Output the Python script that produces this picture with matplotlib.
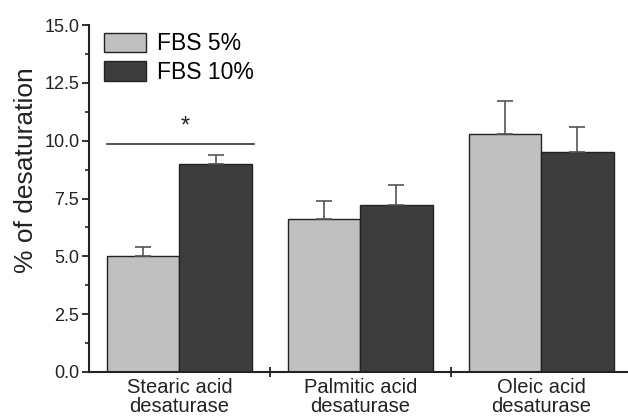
import matplotlib.pyplot as plt
import numpy as np
from matplotlib.ticker import MultipleLocator, FixedLocator, NullFormatter

plt.rcParams["font.family"] = ["Liberation Sans", "DejaVu Sans"]

groups = ["Stearic acid\ndesaturase", "Palmitic acid\ndesaturase", "Oleic acid\ndesaturase"]
fbs5 = [5.0, 6.6, 10.3]
fbs5_err = [0.4, 0.8, 1.4]
fbs10 = [9.0, 7.2, 9.5]
fbs10_err = [0.4, 0.9, 1.1]

fig = plt.figure(figsize=(6.28, 4.19), dpi=100)
ax = fig.add_axes([0.1417, 0.1122, 0.8583, 0.828])

x = np.arange(len(groups))
w = 0.4
err_kw = dict(ecolor="#555555", elinewidth=1.2, capsize=5.8, capthick=1.2)
ax.bar(x - w / 2, fbs5, w, color="#c0c0c0", edgecolor="#222222", linewidth=1.0,
       yerr=[np.zeros(3), fbs5_err], error_kw=err_kw, label="FBS 5%")
ax.bar(x + w / 2, fbs10, w, color="#3d3d3d", edgecolor="#222222", linewidth=1.0,
       yerr=[np.zeros(3), fbs10_err], error_kw=err_kw, label="FBS 10%")

# significance marker over the stearic pair
ax.plot([-0.4, 0.41], [9.87, 9.87], color="#333333", lw=1.2)
ax.text(0.03, 10.15, "*", ha="center", va="bottom", fontsize=17, color="#222222")

ax.set_xlim(-0.5, 2.48)
ax.set_ylim(0, 15)
ax.spines["top"].set_visible(False)
ax.spines["right"].set_visible(False)
for s in ("left", "bottom"):
    ax.spines[s].set_linewidth(1.5)
    ax.spines[s].set_color("#222222")

ax.yaxis.set_major_locator(MultipleLocator(2.5))
ax.yaxis.set_minor_locator(MultipleLocator(1.25))
ax.yaxis.set_major_formatter(plt.FormatStrFormatter("%.1f"))
ax.tick_params(axis="y", which="major", length=5, width=1.3, labelsize=13,
               colors="#222222", pad=2)
ax.tick_params(axis="y", which="minor", length=3, width=1.2, colors="#222222")

ax.set_xticks(x)
ax.set_xticklabels(groups, linespacing=1.0)
ax.xaxis.set_minor_locator(FixedLocator([0.5, 1.5]))
ax.xaxis.set_minor_formatter(NullFormatter())
ax.tick_params(axis="x", which="major", length=0, labelsize=14.5, colors="#222222", pad=4)
ax.tick_params(axis="x", which="minor", direction="inout", length=7, width=1.3,
               colors="#222222")

ax.set_ylabel("% of desaturation", fontsize=19, color="#222222")
ax.yaxis.set_label_coords(-0.095, 0.582)

ax.legend(loc="upper left", bbox_to_anchor=(0.01, 1.005), frameon=False,
          fontsize=16.5, handlelength=1.85, handleheight=0.95, handletextpad=0.5,
          labelspacing=0.25, borderaxespad=0.0)

fig.savefig("out.png", dpi=100)
